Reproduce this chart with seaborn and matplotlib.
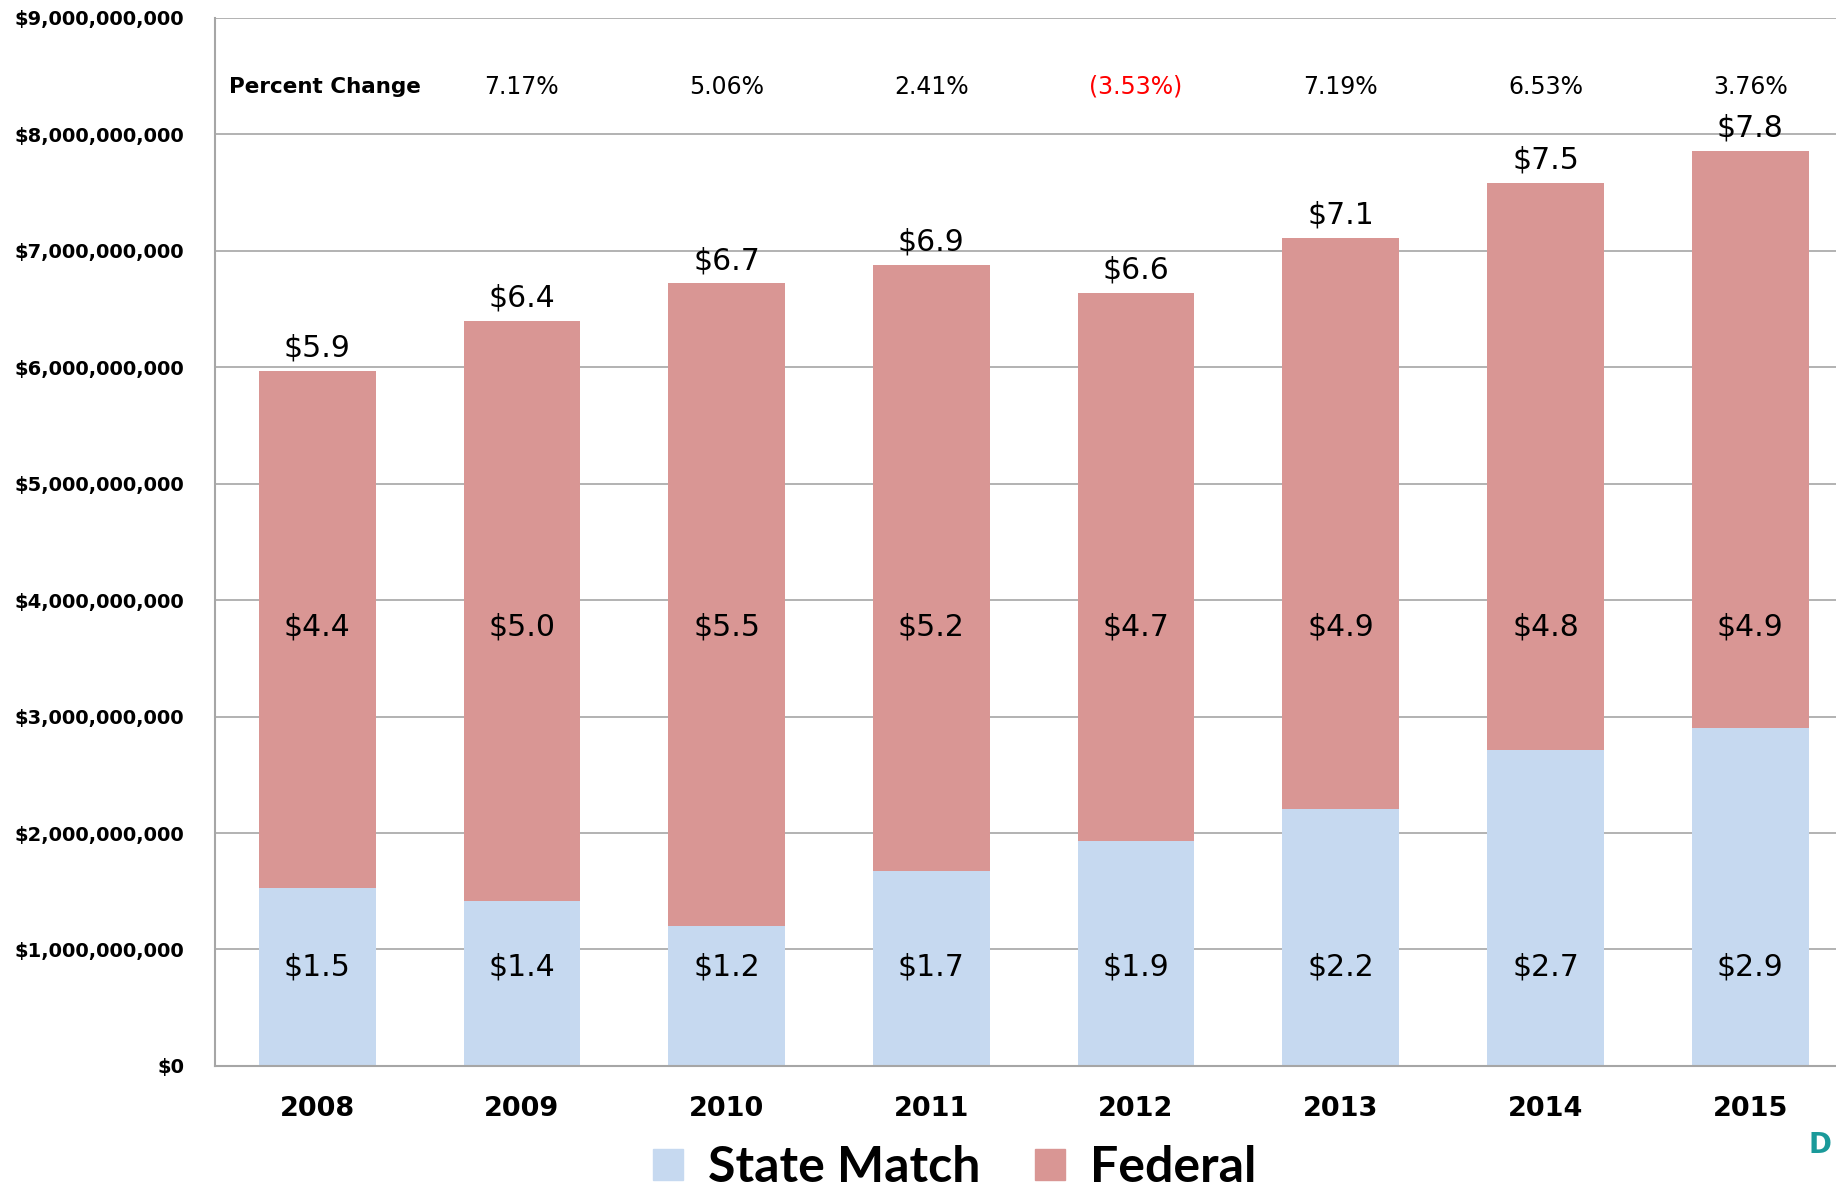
import pandas as pd
import matplotlib
matplotlib.use("Agg")
import matplotlib.pyplot as plt
import seaborn as sns
from matplotlib.patches import Patch
from matplotlib.ticker import FuncFormatter

# Datos (dolares)
years = ["2008", "2009", "2010", "2011", "2012", "2013", "2014", "2015"]
state_match = [1.53e9, 1.42e9, 1.20e9, 1.67e9, 1.93e9, 2.21e9, 2.71e9, 2.90e9]
federal = [4.44e9, 4.98e9, 5.52e9, 5.21e9, 4.71e9, 4.90e9, 4.87e9, 4.96e9]
total_labels = ["$5.9", "$6.4", "$6.7", "$6.9", "$6.6", "$7.1", "$7.5", "$7.8"]
federal_labels = ["$4.4", "$5.0", "$5.5", "$5.2", "$4.7", "$4.9", "$4.8", "$4.9"]
state_labels = ["$1.5", "$1.4", "$1.2", "$1.7", "$1.9", "$2.2", "$2.7", "$2.9"]
pct_years = ["2009", "2010", "2011", "2012", "2013", "2014", "2015"]
pct_labels = ["7.17%", "5.06%", "2.41%", "(3.53%)", "7.19%", "6.53%", "3.76%"]

COLOR_STATE = "#C6D9F0"
COLOR_FED = "#D99694"
GRID = "#A6A6A6"

df = pd.DataFrame({"year": years, "state": state_match, "federal": federal})
df["total"] = df["state"] + df["federal"]

sns.set_style("white")
plt.rcParams["font.family"] = ["DejaVu Sans"]
plt.rcParams["text.color"] = "black"
plt.rcParams["xtick.color"] = "black"
plt.rcParams["ytick.color"] = "black"

fig = plt.figure(figsize=(18.36, 11.89), dpi=100)
ax = fig.add_axes([0.117, 0.1035, 0.892, 0.8815])

# Barras apiladas: total (federal) debajo, estatal encima
sns.barplot(data=df, x="year", y="total", order=years, color=COLOR_FED,
            saturation=1, width=0.57, linewidth=0, ax=ax)
sns.barplot(data=df, x="year", y="state", order=years, color=COLOR_STATE,
            saturation=1, width=0.57, linewidth=0, ax=ax)

ax.set_xlim(-0.5, 7.5)
ax.set_ylim(0, 9e9)
ax.set_yticks([i * 1e9 for i in range(10)])
ax.yaxis.set_major_formatter(FuncFormatter(lambda v, p: f"${v:,.0f}"))
ax.grid(axis="y", color=GRID, linewidth=1.2)
ax.set_axisbelow(True)
ax.set_xlabel("")
ax.set_ylabel("")
for s in ["top", "right"]:
    ax.spines[s].set_visible(False)
for s in ["left", "bottom"]:
    ax.spines[s].set_color(GRID)
    ax.spines[s].set_linewidth(1.5)
ax.tick_params(axis="y", length=0, pad=22, labelsize=14)
ax.tick_params(axis="x", length=0, pad=22, labelsize=19.5)
for lab in ax.get_yticklabels() + ax.get_xticklabels():
    lab.set_fontweight("bold")

# Etiquetas de valores
for i, y in enumerate(years):
    ax.annotate(total_labels[i], (i, df["total"][i]), xytext=(0, 6),
                textcoords="offset points", ha="center", va="bottom", fontsize=21.5)
    ax.text(i, 3.77e9, federal_labels[i], ha="center", va="center", fontsize=21.5)
    ax.text(i, 0.85e9, state_labels[i], ha="center", va="center", fontsize=21.5)

# Fila de cambio porcentual
ax.text(-0.43, 8.41e9, "Percent Change", ha="left", va="center",
        fontsize=15.5, fontweight="bold")
for y, lab in zip(pct_years, pct_labels):
    color = "#FF0000" if lab.startswith("(") else "black"
    ax.text(years.index(y), 8.41e9, lab, ha="center", va="center",
            fontsize=17, color=color)

handles = [Patch(color=COLOR_STATE, label="State Match"),
           Patch(color=COLOR_FED, label="Federal")]
fig.legend(handles=handles, loc="center", bbox_to_anchor=(0.52, 0.018), ncol=2,
           frameon=False, prop={"family": "Lato", "weight": "bold", "size": 36},
           handlelength=0.6, handleheight=0.6, handletextpad=0.5, columnspacing=1.1)

fig.text(0.985, 0.037, "D", color="#1A9A9A", fontsize=20, fontweight="bold",
         ha="left", va="center")

fig.savefig("out.png", dpi=100)
